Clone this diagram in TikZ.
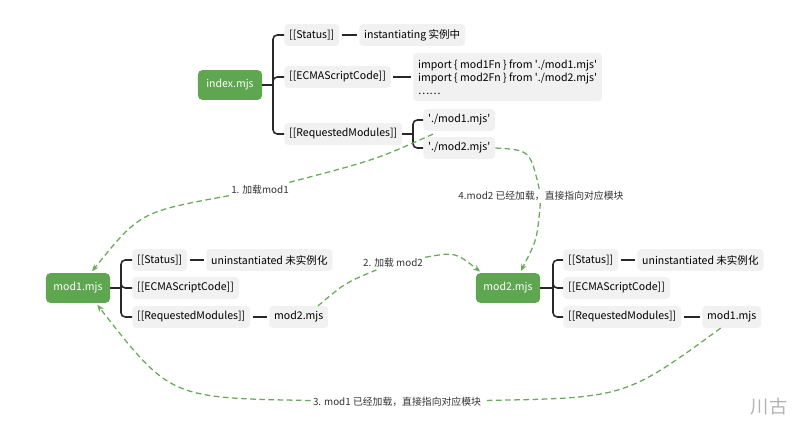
\documentclass[tikz,border=0pt]{standalone}
\usepackage{fontspec}
\setmainfont{Noto Sans CJK SC}
\usepackage{tikz}
\usetikzlibrary{arrows.meta,calc}
\definecolor{green1}{RGB}{94,166,80}
\definecolor{dash1}{RGB}{104,170,88}
\definecolor{box1}{RGB}{241,241,241}
\definecolor{line1}{RGB}{40,40,40}
\def\sq{\textquotesingle}

\begin{document}
\begin{tikzpicture}[x=0.025cm, y=-0.025cm,
    module/.style={fill=green1, text=white, rounded corners=3pt, minimum width=1.6cm, minimum height=0.74cm, font=\fontsize{7.5}{9}\selectfont},
    field/.style={fill=box1, rounded corners=2.5pt, minimum height=0.54cm, inner xsep=3.5pt, font=\fontsize{7.5}{9.2}\selectfont, anchor=west},
    branch/.style={draw=line1, line width=1.1pt, rounded corners=3pt},
    link/.style={draw=line1, line width=1.1pt, shorten >=1.5pt, shorten <=1.5pt},
    loadline/.style={draw=dash1, line width=0.9pt, dash pattern=on 4pt off 2.5pt},
    loadarrow/.style={loadline, -{Stealth[length=5pt,width=4pt]}, shorten >=1.5pt},
    steplabel/.style={inner sep=1.5pt, text=black!80, font=\fontsize{7}{8.5}\selectfont}
]
    \useasboundingbox (0,0) rectangle (795,439);

    % index.mjs
    \node[module, name=index] at(230,85) {index.mjs};
    \node[field, name=istatus] at(284,35) {[[Status]]};
    \node[field, name=ivalue] at(359,35) {instantiating 实例中};
    \node[field, name=iecma] at(284,77) {[[ECMAScriptCode]]};
    \node[field, align=left, minimum height=1.2cm, name=icode] at(413,77) {import \{ mod1Fn \} from \sq./mod1.mjs\sq\\import \{ mod2Fn \} from \sq./mod2.mjs\sq\\……};
    \node[field, name=ireq] at(284,134) {[[RequestedModules]]};
    \node[field, name=im1] at(423,120) {\sq./mod1.mjs\sq};
    \node[field, name=im2] at(423,148) {\sq./mod2.mjs\sq};

    \coordinate (ib) at(273,85);
    \coordinate (rb) at(413,134);
    \draw[branch] (index.east) -- (ib);
    \draw[branch] (ib) |- (istatus.west);
    \draw[branch] (ib) |- (iecma.west);
    \draw[branch] (ib) |- (ireq.west);
    \draw[link] (istatus) -- (ivalue);
    \draw[link] (iecma) -- (icode.west |- iecma);
    \draw[branch] (ireq.east) -- (rb);
    \draw[branch] (rb) |- (im1.west);
    \draw[branch] (rb) |- (im2.west);

    % mod1.mjs
    \node[module, name=mod1] at(78,288) {mod1.mjs};
    \node[field, name=m1status] at(132,260) {[[Status]]};
    \node[field, name=m1value] at(206,260) {uninstantiated 未实例化};
    \node[field, name=m1ecma] at(132,288) {[[ECMAScriptCode]]};
    \node[field, name=m1req] at(132,317) {[[RequestedModules]]};
    \node[field, name=m1m2] at(269,317) {mod2.mjs};

    \coordinate (m1b) at(121,288);
    \draw[branch] (mod1.east) -- (m1b);
    \draw[branch] (m1b) |- (m1status.west);
    \draw[branch] (m1b) |- (m1ecma.west);
    \draw[branch] (m1b) |- (m1req.west);
    \draw[link] (m1status) -- (m1value);
    \draw[link] (m1req) -- (m1m2);

    % mod2.mjs
    \node[module, name=mod2] at(508,288) {mod2.mjs};
    \node[field, name=m2status] at(563,260) {[[Status]]};
    \node[field, name=m2value] at(637,260) {uninstantiated 未实例化};
    \node[field, name=m2ecma] at(563,288) {[[ECMAScriptCode]]};
    \node[field, name=m2req] at(563,317) {[[RequestedModules]]};
    \node[field, name=m2m1] at(702,317) {mod1.mjs};

    \coordinate (m2b) at(553,288);
    \draw[branch] (mod2.east) -- (m2b);
    \draw[branch] (m2b) |- (m2status.west);
    \draw[branch] (m2b) |- (m2ecma.west);
    \draw[branch] (m2b) |- (m2req.west);
    \draw[link] (m2status) -- (m2value);
    \draw[link] (m2req) -- (m2m1);

    % loading steps
    \node[steplabel, name=l1] at(260,190) {1. 加载mod1};
    \node[steplabel, name=l2] at(393,263) {2. 加载 mod2};
    \node[steplabel, name=l3] at(397,402) {3. mod1 已经加载，直接指向对应模块};
    \node[steplabel, name=l4] at(541,196) {4.mod2 已经加载，直接指向对应模块};

    \draw[loadline] ($(im1.south west)+(10,3)$) .. controls (375,160) .. (l1);
    \draw[loadarrow] (l1) .. controls (140,212) .. (mod1.50);
    \draw[loadline] (m1m2.30) .. controls (345,283) .. (l2);
    \draw[loadarrow] (l2) .. controls (455,252) .. (mod2.150);
    \draw[loadline] (m2m1.225) .. controls (625,398) .. (l3);
    \draw[loadarrow] (l3) .. controls (170,398) .. (mod1.320);
    \draw[loadline] (im2.east) .. controls (530,150) .. (l4);
    \draw[loadarrow] (l4) .. controls (537,240) .. (mod2.52);

    \node[text=black!30, font=\fontsize{13}{15}\selectfont, name=mark] at(769,407) {川古};
\end{tikzpicture}
\end{document}
